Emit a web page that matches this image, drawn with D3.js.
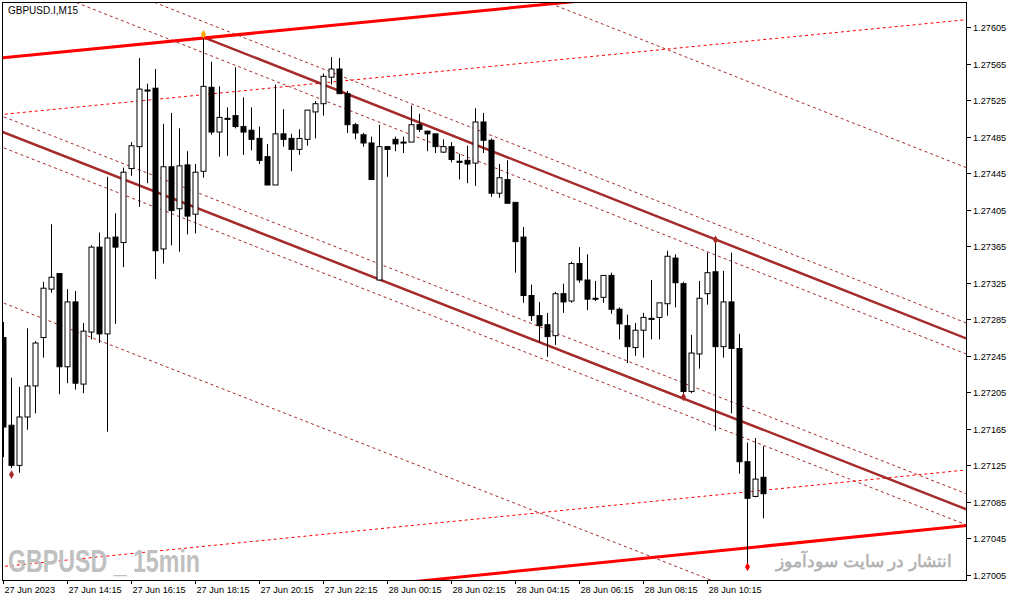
<!DOCTYPE html>
<html>
<head>
<meta charset="utf-8">
<script src="https://cdn.jsdelivr.net/npm/d3@7"></script>
<style>
  body { margin: 0; background: #fff; }
  svg { display: block; }
  text { font-family: "Liberation Sans", Arial, sans-serif; }
</style>
</head>
<body>
<svg id="chart" width="1013" height="601"></svg>
<script>
// GBPUSD.I M15 candles, 27-28 Jun 2023
const opens = [1.27265,1.27169,1.27125,1.27178,1.27212,1.27265,1.27318,1.27335,1.27233,1.27304,1.27214,1.27271,1.27364,1.27269,1.27375,1.27369,1.27450,1.27474,1.27536,1.27538,1.27362,1.27452,1.27406,1.27454,1.27400,1.27447,1.27539,1.27490,1.27505,1.27508,1.27496,1.27492,1.27483,1.27463,1.27432,1.27488,1.27483,1.27471,1.27482,1.27512,1.27521,1.27550,1.27559,1.27532,1.27498,1.27487,1.27478,1.27328,1.27474,1.27482,1.27479,1.27479,1.27498,1.27491,1.27488,1.27468,1.27474,1.27458,1.27459,1.27456,1.27501,1.27481,1.27423,1.27438,1.27413,1.27375,1.27311,1.27289,1.27279,1.27267,1.27313,1.27305,1.27346,1.27328,1.27308,1.27309,1.27333,1.27296,1.27278,1.27254,1.27273,1.27286,1.27287,1.27302,1.27352,1.27324,1.27206,1.27247,1.27313,1.27337,1.27255,1.27304,1.27253,1.27129,1.27091,1.27112];
const highs = [1.27282,1.27221,1.27211,1.27275,1.27261,1.27326,1.27389,1.27335,1.27318,1.27316,1.27281,1.27366,1.27380,1.27441,1.27401,1.27451,1.27479,1.27571,1.27543,1.27559,1.27499,1.27511,1.27494,1.27469,1.27455,1.27595,1.27567,1.27540,1.27517,1.27561,1.27528,1.27517,1.27496,1.27477,1.27542,1.27515,1.27488,1.27493,1.27514,1.27524,1.27554,1.27572,1.27571,1.27535,1.27500,1.27489,1.27485,1.27498,1.27474,1.27485,1.27485,1.27519,1.27510,1.27491,1.27488,1.27482,1.27479,1.27466,1.27475,1.27516,1.27511,1.27483,1.27455,1.27459,1.27413,1.27386,1.27323,1.27304,1.27292,1.27315,1.27324,1.27348,1.27364,1.27356,1.27327,1.27333,1.27336,1.27298,1.27290,1.27281,1.27292,1.27328,1.27303,1.27360,1.27356,1.27326,1.27268,1.27327,1.27358,1.27370,1.27338,1.27358,1.27269,1.27150,1.27155,1.27146];
const lows = [1.27134,1.27122,1.27117,1.27164,1.27182,1.27243,1.27314,1.27203,1.27215,1.27208,1.27204,1.27263,1.27259,1.27162,1.27280,1.27342,1.27442,1.27408,1.27434,1.27329,1.27346,1.27366,1.27359,1.27378,1.27379,1.27440,1.27487,1.27463,1.27464,1.27494,1.27465,1.27470,1.27455,1.27432,1.27432,1.27474,1.27447,1.27465,1.27475,1.27483,1.27508,1.27542,1.27532,1.27489,1.27482,1.27474,1.27438,1.27328,1.27441,1.27469,1.27467,1.27479,1.27490,1.27469,1.27467,1.27467,1.27457,1.27438,1.27434,1.27431,1.27467,1.27419,1.27418,1.27412,1.27336,1.27303,1.27283,1.27260,1.27244,1.27257,1.27292,1.27303,1.27325,1.27295,1.27305,1.27303,1.27291,1.27263,1.27237,1.27245,1.27243,1.27263,1.27263,1.27289,1.27298,1.27200,1.27204,1.27231,1.27301,1.27163,1.27243,1.27182,1.27116,1.27018,1.27090,1.27067];
const closes = [1.27167,1.27125,1.27178,1.27212,1.27259,1.27319,1.27331,1.27233,1.27304,1.27215,1.27272,1.27364,1.27269,1.27374,1.27364,1.27446,1.27475,1.27537,1.27535,1.27360,1.27452,1.27404,1.27453,1.27398,1.27446,1.27540,1.27490,1.27506,1.27504,1.27496,1.27490,1.27482,1.27459,1.27432,1.27488,1.27482,1.27471,1.27483,1.27514,1.27521,1.27551,1.27559,1.27532,1.27498,1.27489,1.27478,1.27438,1.27474,1.27471,1.27477,1.27478,1.27498,1.27493,1.27488,1.27474,1.27474,1.27460,1.27457,1.27455,1.27501,1.27481,1.27423,1.27440,1.27412,1.27370,1.27311,1.27289,1.27278,1.27266,1.27313,1.27304,1.27346,1.27328,1.27307,1.27307,1.27333,1.27296,1.27280,1.27255,1.27273,1.27287,1.27285,1.27303,1.27354,1.27325,1.27206,1.27248,1.27308,1.27336,1.27255,1.27304,1.27253,1.27129,1.27089,1.27110,1.27094];

const timeLabels = ["27 Jun 2023","27 Jun 14:15","27 Jun 16:15","27 Jun 18:15","27 Jun 20:15","27 Jun 22:15","28 Jun 00:15","28 Jun 02:15","28 Jun 04:15","28 Jun 06:15","28 Jun 08:15","28 Jun 10:15"];
const priceTicks = [1.27005,1.27045,1.27085,1.27125,1.27165,1.27205,1.27245,1.27285,1.27325,1.27365,1.27405,1.27445,1.27485,1.27525,1.27565,1.27605];

// trend lines as [bar index, price] anchor pairs
const brownUpper = [[25, 1.27594], [120.4, 1.27264]];
const brownLower = [[0, 1.27490], [120.4, 1.27077]];
const redTop = [[-0.4, 1.27571], [69.3, 1.27631]];
const redBottom = [[52.8, 1.26999], [120.4, 1.27059]];
const redDashTop = [[-0.4, 1.27509], [120.4, 1.27613]];
const redDashBottom = [[-0.4, 1.27014], [120.4, 1.27120]];
const channelOffsets = [0.00017, -0.00017];
const channelWidth = 0.00187;
const markers = [[1, 1.27115, "#a52a2a"], [25, 1.27597, "#ffa500"], [89, 1.27372, "#a52a2a"], [85, 1.27200, "#a52a2a"], [93, 1.27014, "#ff0000"]];

const svg = d3.select("#chart");
const plotL = 3, plotR = 967, plotT = 2, plotB = 580;

const x = d3.scaleLinear().domain([0, 95]).range([3, 763]);
const y = d3.scaleLinear().domain([1.27005, 1.27605]).range([575, 27]);

svg.append("clipPath").attr("id", "plot")
  .append("rect").attr("x", plotL).attr("y", plotT).attr("width", plotR - plotL).attr("height", plotB - plotT);

const g = svg.append("g").attr("clip-path", "url(#plot)");

function extend(line, off, i0, i1) {
  const [[a, pa], [b, pb]] = line;
  const k = (pb - pa) / (b - a);
  return [[i0, pa + k * (i0 - a) + off], [i1, pa + k * (i1 - a) + off]];
}
function drawLine(pts, color, w, dash) {
  g.append("line")
    .attr("x1", x(pts[0][0])).attr("y1", y(pts[0][1]))
    .attr("x2", x(pts[1][0])).attr("y2", y(pts[1][1]))
    .attr("stroke", color).attr("stroke-width", w)
    .attr("stroke-dasharray", dash ? "3,3" : null);
}

const brown = "#a52a2a", red = "#ff0000";
// dashed channel companions
channelOffsets.forEach(o => {
  drawLine(extend(brownUpper, o, -2, 125), brown, 1, true);
  drawLine(extend(brownLower, o, -2, 125), brown, 1, true);
});
drawLine(extend(brownUpper, channelWidth, -2, 125), brown, 1, true);
drawLine(extend(brownLower, -channelWidth, -2, 125), brown, 1, true);
drawLine(extend(redDashTop, 0, -2, 125), red, 1, true);
drawLine(extend(redDashBottom, 0, -2, 125), red, 1, true);

// watermark texts (drawn under the candles)
g.append("text").attr("x", 8).attr("y", 572)
  .attr("font-family", "'Liberation Sans Narrow', 'DejaVu Sans Condensed', sans-serif")
  .attr("font-weight", "bold").attr("font-size", 31).attr("fill", "#c0c0c0")
  .attr("textLength", 192).attr("lengthAdjust", "spacingAndGlyphs")
  .text("GBPUSD _ 15min");
g.append("text").attr("x", 952).attr("y", 567).attr("text-anchor", "end")
  .attr("font-family", "'Noto Sans', 'DejaVu Sans', sans-serif")
  .attr("font-weight", "bold").attr("font-size", 17).attr("fill", "#b4b4b4")
  .text("انتشار در سایت سودآموز");

// solid lines
drawLine(extend(brownUpper, 0, 25, 125), brown, 2.5, false);
drawLine(extend(brownLower, 0, -2, 125), brown, 2.5, false);
drawLine(extend(redTop, 0, -2, 125), red, 3, false);
drawLine(extend(redBottom, 0, -2, 125), red, 3, false);

// candles
const bars = d3.range(opens.length);
g.selectAll(".wick").data(bars).join("line")
  .attr("x1", i => Math.round(x(i)) + 0.5).attr("x2", i => Math.round(x(i)) + 0.5)
  .attr("y1", i => y(highs[i])).attr("y2", i => y(lows[i]))
  .attr("stroke", "#000").attr("stroke-width", 1);
g.selectAll(".body").data(bars).join("rect")
  .attr("x", i => Math.round(x(i)) - 2)
  .attr("y", i => y(Math.max(opens[i], closes[i])))
  .attr("width", 5)
  .attr("height", i => Math.max(1, Math.abs(y(opens[i]) - y(closes[i]))))
  .attr("fill", i => closes[i] >= opens[i] ? "#fff" : "#000")
  .attr("stroke", "#000").attr("stroke-width", 1);

// markers
g.selectAll(".mk").data(markers).join("path")
  .attr("d", d3.symbol(d3.symbolDiamond, 22))
  .attr("transform", d => `translate(${x(d[0]) + 0.5},${y(d[1])})`)
  .attr("fill", d => d[2]);

// frame
svg.append("rect").attr("x", plotL - 0.5).attr("y", plotT + 0.5)
  .attr("width", plotR - plotL).attr("height", plotB - plotT)
  .attr("fill", "none").attr("stroke", "#000").attr("stroke-width", 1);

svg.append("text").attr("x", 8).attr("y", 14).attr("font-size", 10).attr("fill", "#000")
  .text("GBPUSD.I,M15");

// price axis
const yAxis = svg.append("g");
priceTicks.forEach(p => {
  const yy = Math.round(y(p)) + 0.5;
  yAxis.append("line").attr("x1", plotR).attr("x2", plotR + 4).attr("y1", yy).attr("y2", yy).attr("stroke", "#000");
  yAxis.append("text").attr("x", plotR + 6).attr("y", yy + 3.5).attr("font-size", 9.2).attr("fill", "#000")
    .text(p.toFixed(5));
});

// time axis
const xAxis = svg.append("g");
timeLabels.forEach((t, k) => {
  const xx = Math.round(x(k * 8)) + 0.5;
  xAxis.append("line").attr("x1", xx).attr("x2", xx).attr("y1", plotB).attr("y2", plotB + 4).attr("stroke", "#000");
  xAxis.append("text").attr("x", xx + 1).attr("y", plotB + 13).attr("font-size", 9.2).attr("fill", "#000").text(t);
});
</script>
</body>
</html>
